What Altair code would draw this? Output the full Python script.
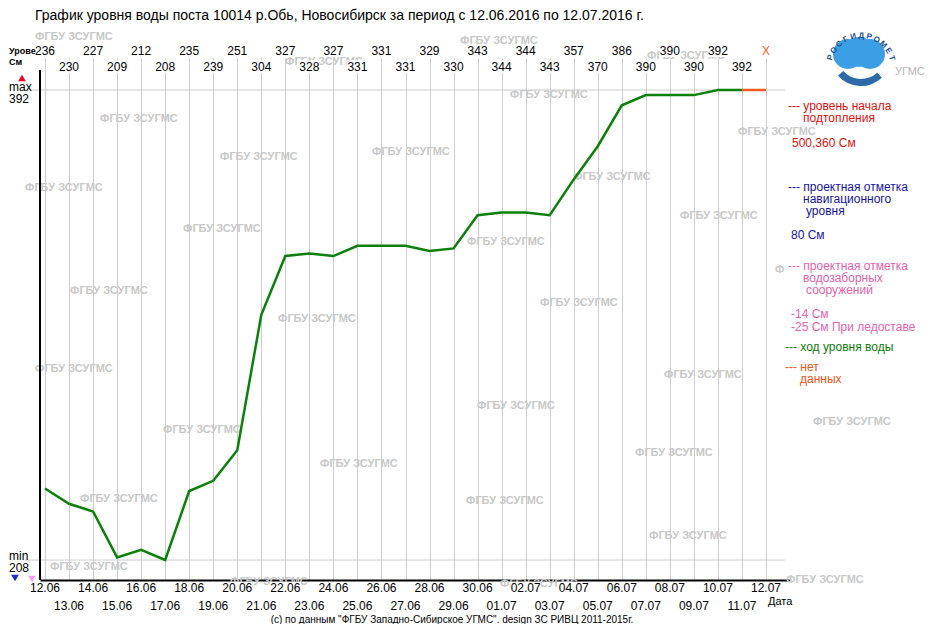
import math

import altair as alt
import pandas as pd

# ---- data ------------------------------------------------------------------
dates = ["12.06", "13.06", "14.06", "15.06", "16.06", "17.06", "18.06", "19.06",
         "20.06", "21.06", "22.06", "23.06", "24.06", "25.06", "26.06", "27.06",
         "28.06", "29.06", "30.06", "01.07", "02.07", "03.07", "04.07", "05.07",
         "06.07", "07.07", "08.07", "09.07", "10.07", "11.07", "12.07"]
# water level, cm (None = no data for that day)
levels = [236, 230, 227, 209, 212, 208, 235, 239, 251, 304, 327, 328, 327, 331,
          331, 331, 329, 330, 343, 344, 344, 343, 357, 370, 386, 390, 390, 390,
          392, 392, None]

title_text = ("График уровня воды поста 10014 р.Обь, Новосибирск "
              "за период с 12.06.2016 по 12.07.2016 г.")
footer_text = '(c) по данным "ФГБУ Западно-Сибирское УГМС". design ЗС РИВЦ 2011-2015г.'
watermark_text = "ФГБУ ЗСУГМС"
logo_text = "РОСГИДРОМЕТ"

# legend lines on the right: (text, colour key)
legend_lines = [
    ("--- уровень начала", "red"), ("подтопления", "red"), ("500,360 См", "red"),
    ("--- проектная отметка", "blue"), ("навигационного", "blue"), ("уровня", "blue"),
    ("80 См", "blue"),
    ("--- проектная отметка", "pink"), ("водозаборных", "pink"), ("сооружений", "pink"),
    ("-14 См", "pink"), ("-25 См При ледоставе", "pink"),
    ("--- ход уровня воды", "green"),
    ("--- нет", "orange"), ("данных", "orange"),
]

# ---- layout (page pixels) -------------------------------------------------
FONT = "Liberation Sans"
COLORS = {"red": "#e01010", "blue": "#1515a0", "pink": "#e462a8",
          "green": "#0a7d0a", "orange": "#ee5414"}
LINE_GREEN = "#0b800b"
NODATA = "#ff5a1e"
GRID = "#cccccc"
WM = "#c8c8c8"

PAD_L, PAD_T = 32, 50
W, H = 750, 522
OX, OY = 8 + PAD_L, 8 + PAD_T
FIRST_X, LAST_X = 45, 766       # centre of first / last day
MAX_Y, MIN_Y = 90, 560          # max / min level lines

legend_pos = [(788, 106), (803, 118), (792, 143), (788, 187), (803, 199), (806, 211),
              (791, 235), (788, 266), (803, 278), (806, 290), (791, 314), (791, 327),
              (785, 347), (785, 367), (800, 379)]
watermark_pos = [(35, 37), (460, 41), (285, 62), (647, 56), (510, 95), (100, 119),
                 (738, 132), (372, 152), (220, 157), (25, 188), (573, 177), (680, 216),
                 (183, 229), (467, 242), (70, 291), (540, 303), (278, 319), (35, 369),
                 (664, 375), (477, 406), (813, 422), (163, 430), (635, 453), (320, 464),
                 (80, 499), (466, 501), (649, 536), (50, 567), (786, 580), (500, 584),
                 (230, 582)]

valid = [v for v in levels if v is not None]
vmax, vmin = max(valid), min(valid)

n = len(dates)
px_day = (LAST_X - FIRST_X) / (n - 1)
x_lo = -(FIRST_X - OX) / px_day
xs = alt.Scale(domain=[x_lo, x_lo + W / px_day], nice=False, zero=False)
px_unit = (MIN_Y - MAX_Y) / (vmax - vmin)
y_hi = vmax + (MAX_Y - OY) / px_unit
ys = alt.Scale(domain=[y_hi - H / px_unit, y_hi], nice=False, zero=False)

X_AX = alt.Axis(values=list(range(n)), labels=False, ticks=False, grid=True,
                gridColor=GRID, gridWidth=1, domainColor="black", domainWidth=2,
                title=None)

# ---- tables ------------------------------------------------------------------
df_line = pd.DataFrame({"day": [i for i, v in enumerate(levels) if v is not None],
                        "level": valid})
last = max(i for i, v in enumerate(levels) if v is not None)
nd_days = [last] + [i for i, v in enumerate(levels) if v is None]
df_nd = pd.DataFrame({"day": nd_days, "level": [levels[last]] * len(nd_days)})

even = [i % 2 == 0 for i in range(n)]
df_days = pd.DataFrame({
    "day": list(range(n)),
    "label": dates,
    "val": ["X" if v is None else str(v) for v in levels],
    "vc": [NODATA if v is None else "black" for v in levels],
    "top_y": [(51 if e else 67) - OY for e in even],
    "bg_y": [(45 if e else 60) - OY for e in even],
    "bg_y2": [(57 if e else 73) - OY for e in even],
    "bot_y": [(588 if e else 606) - OY for e in even],
    "bbg_y": [(582 if e else 600) - OY for e in even],
    "bbg_y2": [(594 if e else 612) - OY for e in even],
    "x0": [i - 0.42 for i in range(n)],
    "x1": [i + 0.42 for i in range(n)],
    "w0": [i - 0.64 for i in range(n)],
    "w1": [i + 0.64 for i in range(n)],
})


def pix(rows):
    return pd.DataFrame([{"px": x - OX, "py": y - OY, "t": t, "c": c, "fs": fs}
                         for x, y, t, c, fs in rows])


plain_rows = [(35, 16, title_text, "black", 14),
              (9, 87, "max", "black", 12), (9, 99, str(vmax), "black", 12),
              (9, 556, "min", "black", 12), (9, 568, str(vmin), "black", 12),
              (768, 602, "Дата", "black", 11),
              (895, 72, "УГМС", "#b4b4b4", 11)]
plain_rows += [(x, y, t, COLORS[c], 12) for (t, c), (x, y) in zip(legend_lines, legend_pos)]
bold_rows = [(9, 51, "Урове", "black", 9), (9, 62, "См", "black", 9)]
wm_rows = [(x, y, watermark_text, WM, 11) for x, y in watermark_pos]
wm_rows.append((775, 270, watermark_text[0], WM, 11))

df_tri = pd.DataFrame({"px": [22 - OX, 15 - OX, 32 - OX],
                       "py": [78 - OY, 578 - OY, 579 - OY],
                       "s": ["triangle-up", "triangle-down", "triangle-down"],
                       "c": ["#e8002a", "#1a2bd0", "#f2a2f0"]})

angles = [-71 + k * 143 / (len(logo_text) - 1) for k in range(len(logo_text))]
df_logo = pd.DataFrame({"ch": list(logo_text),
                        "a": [math.radians(a % 360) for a in angles],
                        "r": [a % 360 for a in angles]})
df_blob = pd.DataFrame({"px": [848 - OX, 870 - OX, 859 - OX],
                        "py": [54 - OY, 54 - OY, 52 - OY]})
one = pd.DataFrame({"a": [0]})


def text_layer(df, **kw):
    return alt.Chart(df).mark_text(font=FONT, baseline="middle", align="left", **kw).encode(
        x=alt.X("px:Q", scale=None, axis=None),
        y=alt.Y("py:Q", scale=None, axis=None),
        text="t:N",
        color=alt.Color("c:N", scale=None),
        size=alt.Size("fs:Q", scale=None, legend=None),
    )


# ---- layers ------------------------------------------------------------------
watermarks = text_layer(pix(wm_rows), fontWeight="bold")

label_bg = alt.Chart(df_days).mark_rect(color="white").encode(
    x=alt.X("x0:Q", scale=xs, axis=X_AX), x2="x1:Q",
    y=alt.Y("bg_y:Q", scale=None, axis=None), y2="bg_y2:Q",
)
date_bg = alt.Chart(df_days).mark_rect(color="white").encode(
    x=alt.X("w0:Q", scale=xs, axis=X_AX), x2="w1:Q",
    y=alt.Y("bbg_y:Q", scale=None, axis=None), y2="bbg_y2:Q",
)

minmax = alt.Chart(pd.DataFrame({"level": [vmax, vmin]})).mark_rule(
    color=GRID, strokeWidth=1).encode(
    y=alt.Y("level:Q", scale=ys, axis=None),
    x=alt.value(25 - OX), x2=alt.value(785 - OX),
)

y_line = alt.Chart(one).mark_rule(color="black", strokeWidth=2).encode(
    x=alt.value(0), y=alt.value(70 - OY), y2=alt.value(H))

water = alt.Chart(df_line).mark_line(color=LINE_GREEN, strokeWidth=2.5).encode(
    x=alt.X("day:Q", scale=xs, axis=X_AX),
    y=alt.Y("level:Q", scale=ys, axis=None),
)
nodata = alt.Chart(df_nd).mark_line(color=NODATA, strokeWidth=2.5).encode(
    x=alt.X("day:Q", scale=xs, axis=X_AX),
    y=alt.Y("level:Q", scale=ys, axis=None),
)

values_top = alt.Chart(df_days).mark_text(font=FONT, fontSize=12, baseline="middle").encode(
    x=alt.X("day:Q", scale=xs, axis=X_AX),
    y=alt.Y("top_y:Q", scale=None, axis=None),
    text="val:N",
    color=alt.Color("vc:N", scale=None),
)
dates_bottom = alt.Chart(df_days).mark_text(font=FONT, fontSize=12, baseline="middle",
                                             color="black").encode(
    x=alt.X("day:Q", scale=xs, axis=X_AX),
    y=alt.Y("bot_y:Q", scale=None, axis=None),
    text="label:N",
)

plain = text_layer(pix(plain_rows))
bold = text_layer(pix(bold_rows), fontWeight="bold")
footer = alt.Chart(one).mark_text(font=FONT, fontSize=10, color="black").encode(
    x=alt.value(452 - OX), y=alt.value(620 - OY), text=alt.value(footer_text))

triangles = alt.Chart(df_tri).mark_point(filled=True, size=60, opacity=1).encode(
    x=alt.X("px:Q", scale=None, axis=None),
    y=alt.Y("py:Q", scale=None, axis=None),
    shape=alt.Shape("s:N", scale=None),
    color=alt.Color("c:N", scale=None),
)

blob = alt.Chart(df_blob).mark_arc(outerRadius=15, theta=0, theta2=2 * math.pi,
                                   color="#3c9fe6").encode(
    x=alt.X("px:Q", scale=None, axis=None),
    y=alt.Y("py:Q", scale=None, axis=None),
)
wave = alt.Chart(one).mark_arc(innerRadius=24, outerRadius=31, theta=2.4, theta2=3.98,
                               color="#2e6aa8").encode(
    x=alt.value(861 - OX), y=alt.value(55 - OY))
ring = alt.Chart(df_logo).mark_text(font=FONT, fontSize=8, fontWeight="bold", radius=32,
                                    color="#1f4f8f").encode(
    x=alt.value(861 - OX), y=alt.value(68 - OY),
    theta=alt.Theta("a:Q", scale=None),
    angle=alt.Angle("r:Q", scale=None),
    text="ch:N",
)

chart = alt.layer(
    watermarks, label_bg, date_bg, minmax, y_line, water, nodata, values_top,
    dates_bottom, plain, bold, footer, triangles, blob, wave, ring,
).properties(
    width=W, height=H,
    padding={"left": PAD_L, "top": PAD_T, "right": 142, "bottom": 44},
    autosize=alt.AutoSizeParams(type="none"),
).configure_view(stroke=None)

chart.save("out.html", embed_options={"renderer": "svg", "actions": False})
